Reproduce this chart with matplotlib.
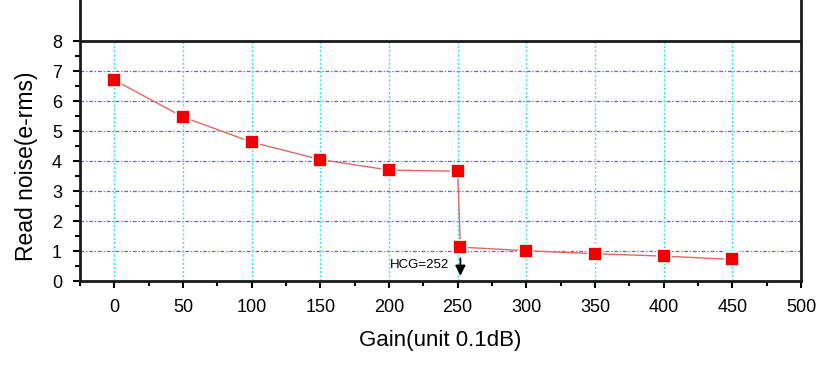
#!/usr/bin/env python3
import matplotlib
matplotlib.use('Agg')
import matplotlib.pyplot as plt
from matplotlib.ticker import MultipleLocator

# gain in 0.1 dB units vs read noise (e- rms)
gain = [0, 50, 100, 150, 200, 250, 252, 300, 350, 400, 450]
noise = [6.7, 5.47, 4.63, 4.05, 3.7, 3.66, 1.13, 1.01, 0.91, 0.83, 0.72]
hcg_gain = 252
hcg_label = 'HCG=252'
xticks = [0, 50, 100, 150, 200, 250, 300, 350, 400, 450, 500]
yticks = [0, 1, 2, 3, 4, 5, 6, 7, 8]

plt.rcParams['font.family'] = ['Liberation Sans', 'DejaVu Sans']

fig = plt.figure(figsize=(8.29, 3.65), dpi=100)
ax = fig.add_axes([0.0965, 0.2301, 0.8697, 0.7699])

ax.set_xlim(-25, 500)
ax.set_ylim(0, 9.37)

# grid limited to the 0..8 frame
ax.hlines(yticks[1:-1], -25, 500, colors='#6464d2', linestyles=(0, (3, 1.5, 1, 1.5)), linewidth=0.9, zorder=1)
ax.vlines(xticks[:-1], 0, 8, colors='#40e0f0', linestyles=(0, (1.5, 1.5)), linewidth=1.0, zorder=1)
ax.axhline(8, color='#1a1a1a', linewidth=2, zorder=3)

ax.plot(gain, noise, color='#e06868', linewidth=1.0, marker='s', markersize=10.5,
        markerfacecolor='#ee0000', markeredgecolor='white', markeredgewidth=1.2, zorder=4)

ax.annotate('', xy=(hcg_gain, 0.08), xytext=(hcg_gain, 0.85),
            arrowprops=dict(arrowstyle='-|>', color='black', lw=1.3, mutation_scale=15), zorder=5)
ax.text(hcg_gain - 8, 0.53, hcg_label, ha='right', va='center', fontsize=9.5)

ax.set_xticks(xticks)
ax.set_yticks(yticks)
ax.xaxis.set_minor_locator(MultipleLocator(25))
ax.set_yticks([0.5, 1.5, 2.5, 3.5, 4.5, 5.5, 6.5, 7.5], minor=True)
ax.tick_params(which='major', direction='out', length=5, width=1.5, labelsize=13, pad=8)
ax.tick_params(which='minor', direction='out', length=3.5, width=1.5)

for side in ['left', 'bottom', 'right']:
    ax.spines[side].set_linewidth(2)
    ax.spines[side].set_color('#1a1a1a')
ax.spines['top'].set_visible(False)

ax.set_xlabel('Gain(unit 0.1dB)', fontsize=16, labelpad=10)
ax.set_ylabel('Read noise(e-rms)', fontsize=16.5)
ax.yaxis.set_label_coords(-0.058, 0.41)

fig.savefig('out.png', dpi=100)
